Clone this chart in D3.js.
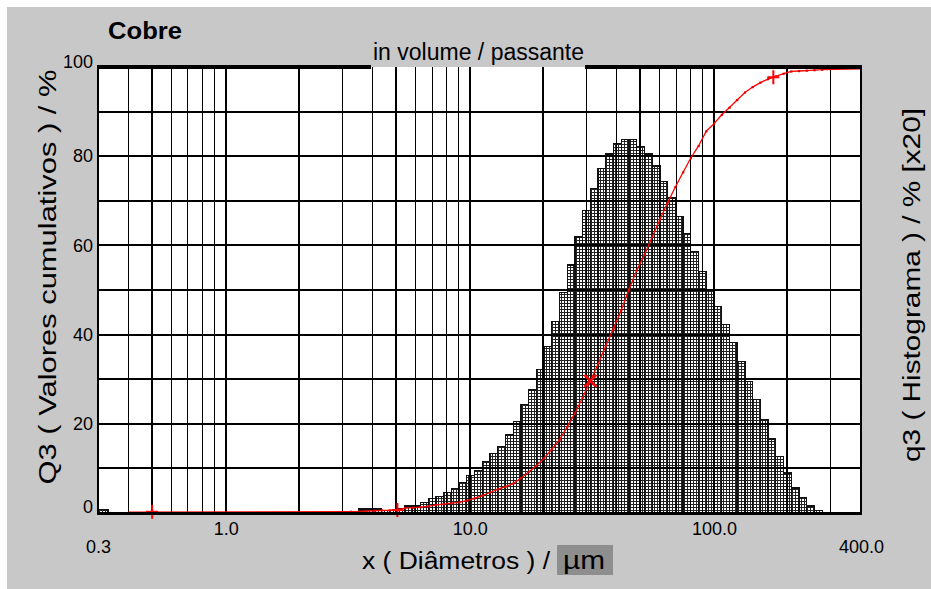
<!DOCTYPE html>
<html>
<head>
<meta charset="utf-8">
<script src="https://cdn.jsdelivr.net/npm/d3@7"></script>
<style>
  html, body { margin: 0; padding: 0; background: #c8c8c8; }
  svg { display: block; }
  text { font-family: "Liberation Sans", Arial, sans-serif; fill: #000; }
</style>
</head>
<body>
<svg id="chart" width="931" height="589"></svg>
<script>
// Particle size classes (µm): lower/upper edges of the histogram bars
const binEdges = [0.30, 0.33, 3.26, 3.51, 3.77, 4.06, 4.36, 4.69, 5.05, 5.43, 5.84, 6.28, 6.75,
  7.26, 7.81, 8.40, 9.04, 9.72, 10.45, 11.24, 12.09, 13.01, 13.99, 15.05, 16.18, 17.41, 18.72,
  20.14, 21.66, 23.29, 25.05, 26.95, 28.98, 31.17, 33.53, 36.06, 38.79, 41.72, 44.87, 48.26,
  51.91, 55.83, 60.05, 64.59, 69.47, 74.72, 80.37, 86.44, 92.97, 100.0, 107.6, 115.7, 124.4,
  133.8, 143.9, 154.8, 166.5, 179.1, 192.7, 207.2, 222.9, 239.7, 257.8, 277.3];

// q3 density per class, scaled x20 (%)
const q3Histogram = [0.8, 0, 0, 0.9, 0.9, 0.9, 0.5, 0.6, 1.0, 1.6, 1.6, 2.4,
  3.3, 3.7, 4.6, 5.5, 6.8, 8.4, 9.6, 11.6, 13.4, 14.9,
  17.5, 20.5, 24.3, 27.6, 32.2, 37.3, 42.9, 49.4, 55.6, 61.9,
  67.9, 72.8, 77.3, 80.5, 82.8, 83.7, 83.7, 82.2, 80.5, 77.8,
  74.3, 70.6, 66.5, 62.6, 58.6, 54.1, 50.0, 46.3, 42.2, 38.2,
  33.9, 29.5, 25.4, 20.9, 16.6, 12.6, 9.0, 5.6, 3.4, 1.6, 0.5];

// Cumulative passing Q3 (%) against diameter (µm)
const cumSizes = [0.40, 3.26, 3.51, 3.77, 4.06, 4.36, 4.69, 5.05, 5.43, 5.84, 6.28, 6.75,
  7.26, 7.81, 8.40, 9.04, 9.72, 10.45, 11.24, 12.09, 13.01, 13.99, 15.05, 16.18, 17.41, 18.72,
  20.14, 21.66, 23.29, 25.05, 26.95, 28.98, 31.17, 33.53, 36.06, 38.79, 41.72, 44.87, 48.26,
  51.91, 55.83, 60.05, 64.59, 69.47, 74.72, 80.37, 86.44, 92.97, 100.0, 107.6, 115.7, 124.4,
  133.8, 143.9, 154.8, 166.5, 179.1, 192.7, 207.2, 222.9, 239.7, 257.8, 277.3, 400.0];
const cumQ3 = [0.2, 0.3, 0.3, 0.4, 0.5, 0.6, 0.6, 0.7, 1.1, 1.2, 1.3, 1.5,
  1.8, 2.0, 2.2, 2.4, 2.8, 3.3, 3.9, 4.6, 5.3, 5.9, 6.6, 7.8, 9.2, 10.6,
  12.3, 14.3, 16.4, 19.3, 22.4, 25.9, 29.6, 33.4, 37.5, 41.4, 45.5, 50.1, 54.4,
  57.9, 61.9, 65.8, 69.6, 73.1, 76.4, 79.6, 82.3, 85.6, 87.3, 89.3, 90.9, 92.6,
  94.3, 95.5, 96.5, 97.3, 97.9, 98.5, 99.0, 99.1, 99.2, 99.3, 99.4, 99.6];

// Marked points on the cumulative curve
const markerSizes = [0.5, 5.05, 31.17, 175];
const markerQ3 = [0.3, 0.7, 29.6, 97.7];
const markerShapes = ["plus", "plus", "cross", "plus"];

// Axis ticks and grid
const xTickValues = [0.3, 1, 10, 100, 400];
const xTickLabels = ["0.3", "1.0", "10.0", "100.0", "400.0"];
const yTickValues = [0, 20, 40, 60, 80, 100];
const gridXMinor = [0.4, 0.6, 0.7, 0.8, 0.9, 3, 4, 6, 7, 8, 9, 30, 40, 60, 70, 80, 90, 300];
const gridXMajor = [0.5, 1, 2, 5, 10, 20, 50, 100, 200];
const gridY = [10, 20, 30, 40, 50, 60, 70, 80, 90];

const svg = d3.select("#chart");
const L = 98, R = 861, T = 67, B = 513;
const x = d3.scaleLog().domain([0.3, 400]).range([L, R]);
const y = d3.scaleLinear().domain([0, 100]).range([B, T]);

// thin white margin at top and left of the gray panel
svg.append("path").attr("d", "M0,0H931V7H7V589H0Z").attr("fill", "#ffffff");

// plot area
svg.append("path").attr("d", `M${L},${T}H${R}V${B}H${L}Z`).attr("fill", "#ffffff");

// lattice texture for the histogram bars
const defs = svg.append("defs");
const pat = defs.append("pattern").attr("id", "lattice").attr("patternUnits", "userSpaceOnUse")
  .attr("width", 3).attr("height", 3);
pat.append("rect").attr("width", 3).attr("height", 3).attr("fill", "#ffffff");
pat.append("rect").attr("x", 0).attr("y", 0).attr("width", 3).attr("height", 1).attr("fill", "#222");
pat.append("rect").attr("x", 0).attr("y", 0).attr("width", 1).attr("height", 3).attr("fill", "#222");

// histogram bars
const bars = q3Histogram.map((v, i) => ({ x0: binEdges[i], x1: binEdges[i + 1], v }))
  .filter(d => d.v > 0);
svg.append("g").selectAll("rect").data(bars).join("rect")
  .attr("x", d => x(d.x0))
  .attr("width", d => x(d.x1) - x(d.x0))
  .attr("y", d => y(d.v))
  .attr("height", d => y(0) - y(d.v))
  .attr("fill", "url(#lattice)")
  .attr("stroke", "#111")
  .attr("stroke-width", 1.3)
  .attr("shape-rendering", "crispEdges");

// grid
const grid = svg.append("g").attr("stroke", "#000").attr("shape-rendering", "crispEdges");
grid.selectAll(".vmin").data(gridXMinor).join("line").attr("class", "vmin")
  .attr("x1", d => x(d)).attr("x2", d => x(d)).attr("y1", T).attr("y2", B).attr("stroke-width", 1);
grid.selectAll(".vmaj").data(gridXMajor).join("line").attr("class", "vmaj")
  .attr("x1", d => x(d)).attr("x2", d => x(d)).attr("y1", T).attr("y2", B).attr("stroke-width", 2);
grid.selectAll(".h").data(gridY).join("line").attr("class", "h")
  .attr("x1", L).attr("x2", R).attr("y1", d => y(d)).attr("y2", d => y(d)).attr("stroke-width", 2);

// cumulative curve
const pts = cumSizes.map((s, i) => [s, cumQ3[i]]);
svg.append("path").datum(pts)
  .attr("d", d3.line().x(d => x(d[0])).y(d => y(d[1])))
  .attr("fill", "none").attr("stroke", "#ff0000").attr("stroke-width", 1.3);
svg.append("g").selectAll("rect").data(pts.slice(1, -1)).join("rect")
  .attr("x", d => x(d[0]) - 1).attr("y", d => y(d[1]) - 1)
  .attr("width", 2.2).attr("height", 2.2).attr("fill", "#e00000");

// markers
const mk = svg.append("g").attr("stroke", "#ff0000").attr("stroke-width", 2).attr("fill", "none");
markerSizes.forEach((s, i) => {
  const cx = x(s), cy = y(markerQ3[i]);
  if (markerShapes[i] === "plus") {
    mk.append("path").attr("d", `M${cx - 6},${cy}H${cx + 6}M${cx},${cy - 7}V${cy + 7}`);
  } else {
    mk.append("path").attr("stroke-width", 2.5)
      .attr("d", `M${cx - 6},${cy - 6}L${cx + 6},${cy + 6}M${cx - 6},${cy + 6}L${cx + 6},${cy - 6}`);
  }
});

// plot frame; the top edge is interrupted by the header text
const frame = svg.append("g").attr("stroke", "#000").attr("shape-rendering", "crispEdges");
frame.append("line").attr("x1", L - 1).attr("x2", 371).attr("y1", T).attr("y2", T).attr("stroke-width", 4);
frame.append("line").attr("x1", 585).attr("x2", R + 1).attr("y1", T).attr("y2", T).attr("stroke-width", 4);
frame.append("line").attr("x1", L - 1).attr("x2", R + 1).attr("y1", B).attr("y2", B).attr("stroke-width", 3);
frame.append("line").attr("x1", L).attr("x2", L).attr("y1", T).attr("y2", B).attr("stroke-width", 2);
frame.append("line").attr("x1", R).attr("x2", R).attr("y1", T).attr("y2", B).attr("stroke-width", 2);

svg.append("text").attr("x", 108).attr("y", 39).attr("font-size", 24).attr("font-weight", "bold")
  .attr("textLength", 74).attr("lengthAdjust", "spacingAndGlyphs").text("Cobre");

svg.append("text").attr("x", 373).attr("y", 60).attr("font-size", 23)
  .attr("textLength", 211).attr("lengthAdjust", "spacingAndGlyphs").text("in volume / passante");

// x axis labels
const gx = svg.append("g").attr("transform", `translate(0,${B})`)
  .call(d3.axisBottom(x).tickValues(xTickValues).tickFormat((d, i) => xTickLabels[i]).tickSize(0).tickPadding(9));
gx.select(".domain").remove();
gx.selectAll("text").attr("font-size", 18)
  .attr("dy", (d, i) => (i === 0 || i === xTickValues.length - 1) ? "1.71em" : "0.71em");
gx.attr("font-family", null).attr("font-size", null);

// y axis labels
const gy = svg.append("g").attr("transform", `translate(${L},0)`)
  .call(d3.axisLeft(y).tickValues(yTickValues).tickSize(0).tickPadding(5));
gy.select(".domain").remove();
gy.selectAll("text").attr("font-size", 18)
  .attr("dy", d => d === 0 ? "-0.05em" : d === 100 ? "0.05em" : "0.32em");
gy.attr("font-family", null).attr("font-size", null);

// axis titles
svg.append("path").attr("d", "M557,545H613V575H557Z").attr("fill", "#8e8e8e");
svg.append("text").attr("x", 362).attr("y", 569).attr("font-size", 23)
  .attr("textLength", 188).attr("lengthAdjust", "spacingAndGlyphs").text("x ( Diâmetros ) /");
svg.append("text").attr("x", 563).attr("y", 569).attr("font-size", 25)
  .attr("textLength", 42).attr("lengthAdjust", "spacingAndGlyphs").text("µm");

svg.append("text").attr("transform", "translate(56,277) rotate(-90)").attr("text-anchor", "middle")
  .attr("font-size", 23).attr("textLength", 415).attr("lengthAdjust", "spacingAndGlyphs")
  .text("Q3 ( Valores cumulativos ) / %");
svg.append("text").attr("transform", "translate(920,285) rotate(-90)").attr("text-anchor", "middle")
  .attr("font-size", 23).attr("textLength", 354).attr("lengthAdjust", "spacingAndGlyphs")
  .text("q3 ( Histograma ) / % [x20]");
</script>
</body>
</html>
